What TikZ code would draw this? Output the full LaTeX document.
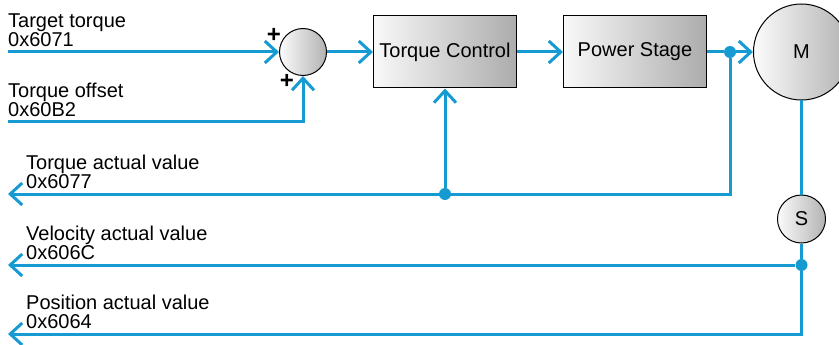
\documentclass[tikz,border=0pt]{standalone}
\usepackage{fontspec}
\setmainfont{Liberation Sans}
\usetikzlibrary{arrows.meta,positioning}
\definecolor{sigblue}{RGB}{22,154,210}

\begin{document}
\begin{tikzpicture}[x=1pt,y=-1pt,node distance=46pt,
    font=\fontsize{20}{19}\selectfont,
    >={Straight Barb[length=12pt,width=22pt]},
    sig/.style={draw=sigblue,line width=3pt},
    block/.style={draw,line width=1pt,left color=gray!5,right color=gray!65,
        minimum width=143pt,minimum height=72pt},
    round/.style={circle,draw,line width=1pt,left color=gray!3,right color=gray!60,inner sep=0},
    dot/.style={circle,fill=sigblue,inner sep=0,minimum size=12pt},
    sign/.style={font=\fontsize{24}{24}\selectfont\bfseries,inner sep=0},
    lbl/.style={anchor=south west,inner sep=0,align=left,yshift=5pt}]
    \useasboundingbox (0,0) rectangle (839,345);
    \clip (0,0) rectangle (839,345);

    \coordinate (tt) at (8,52);
    \coordinate (to) at (8,122);
    \coordinate (fb1) at (8,194);
    \coordinate (fb2) at (8,265);
    \coordinate (fb3) at (8,334);

    \node[round,minimum size=47pt] (sum) at (303,52) {};
    \node[block,right=of sum] (tc) {Torque Control};
    \node[block,right=of tc] (ps) {Power Stage};
    \node[round,minimum size=96pt,right=of ps] (m) {M};
    \node[round,minimum size=48pt,below=94pt of m] (s) {S};

    \node[dot] (j1) at (730,52) {};
    \node[dot] (j2) at (tc |- fb1) {};
    \node[dot] (j3) at (s |- fb2) {};

    \node[sign] (p1) at (274,35) {+};
    \node[sign] (p2) at (287,81) {+};

    \node[lbl] at (tt) {Target torque\\0x6071};
    \node[lbl] at (to) {Torque offset\\0x60B2};
    \node[lbl,xshift=18pt] at (fb1) {Torque actual value\\0x6077};
    \node[lbl,xshift=18pt] at (fb2) {Velocity actual value\\0x606C};
    \node[lbl,xshift=18pt] at (fb3) {Position actual value\\0x6064};

    \draw[sig,->] (tt) -- (sum);
    \draw[sig,->] (to) -| (sum);
    \draw[sig,->] (sum) -- (tc);
    \draw[sig,->] (tc) -- (ps);
    \draw[sig] (ps) -- (j1);
    \draw[sig,->] (j1) -- (m);
    \draw[sig,->] (j1) |- (fb1);
    \draw[sig,->] (j2) -- (tc);
    \draw[sig] (m) -- (s);
    \draw[sig] (s) -- (j3);
    \draw[sig,->] (j3) -- (fb2);
    \draw[sig,->] (j3) |- (fb3);
\end{tikzpicture}
\end{document}
